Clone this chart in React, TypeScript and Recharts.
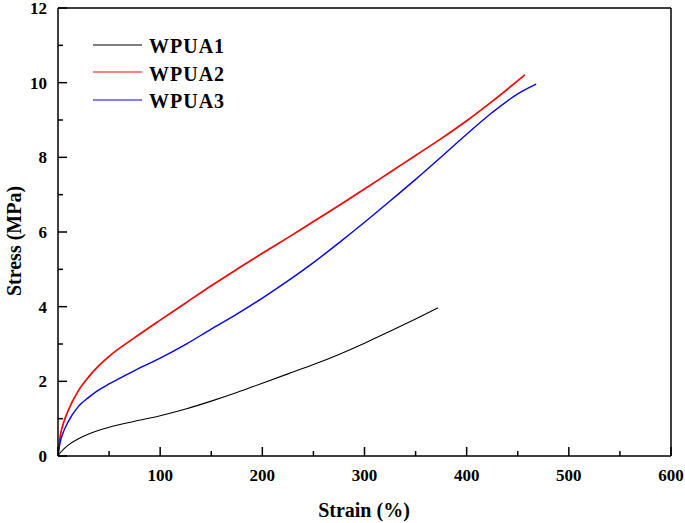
import React from 'react';
import { LineChart, Line, XAxis, YAxis, ReferenceLine, Customized } from 'recharts';

const strain1 = [0, 2, 5, 10, 20, 30, 40, 50, 75, 100, 125, 150, 175, 200, 225, 250, 275, 300, 325, 350, 372];
const stress1 = [0, 0.08, 0.17, 0.29, 0.46, 0.59, 0.69, 0.77, 0.93, 1.08, 1.26, 1.47, 1.7, 1.95, 2.2, 2.45, 2.72, 3.02, 3.34, 3.67, 3.97];

const strain2 = [0, 2, 5, 10, 20, 30, 40, 50, 75, 100, 125, 150, 175, 200, 225, 250, 275, 300, 325, 350, 375, 400, 425, 457];
const stress2 = [0, 0.5, 0.85, 1.22, 1.75, 2.12, 2.42, 2.67, 3.17, 3.64, 4.1, 4.56, 5.0, 5.43, 5.85, 6.28, 6.71, 7.15, 7.6, 8.05, 8.5, 8.98, 9.5, 10.21];

const strain3 = [0, 2, 5, 10, 20, 30, 40, 50, 75, 100, 125, 150, 175, 200, 225, 250, 275, 300, 325, 350, 375, 400, 425, 450, 468];
const stress3 = [0, 0.35, 0.62, 0.92, 1.33, 1.57, 1.77, 1.93, 2.29, 2.62, 2.99, 3.4, 3.8, 4.23, 4.69, 5.18, 5.71, 6.26, 6.83, 7.41, 8.01, 8.62, 9.2, 9.7, 9.96];

const seriesNames = ['WPUA1', 'WPUA2', 'WPUA3'];
const seriesColors = ['#000000', '#ff0000', '#0000ff'];

const xTicks = [0, 50, 100, 150, 200, 250, 300, 350, 400, 450, 500, 550, 600];
const xLabels = [100, 200, 300, 400, 500, 600];
const yTicks = [0, 1, 2, 3, 4, 5, 6, 7, 8, 9, 10, 11, 12];
const yLabels = [0, 2, 4, 6, 8, 10, 12];

const toRows = (xs: number[], ys: number[]) => xs.map((x, i) => ({ x, y: ys[i] }));
const data1 = toRows(strain1, stress1);
const data2 = toRows(strain2, stress2);
const data3 = toRows(strain3, stress3);

const FONT = '"Liberation Serif", "Times New Roman", serif';

const XTick = (props: any) => {
  const { x, y, payload } = props;
  const v = payload.value;
  const major = v % 100 === 0;
  return (
    <g>
      <line x1={x} x2={x} y1={y} y2={y - (major ? 9 : 5)} stroke="#000" strokeWidth={1.5} />
      {major && xLabels.includes(v) ? (
        <text x={x} y={y + 25} textAnchor="middle" fontFamily={FONT} fontWeight="bold" fontSize={17} fill="#000">
          {v}
        </text>
      ) : null}
    </g>
  );
};

const YTick = (props: any) => {
  const { x, y, payload } = props;
  const v = payload.value;
  const major = v % 2 === 0;
  return (
    <g>
      <line x1={x} x2={x + (major ? 9 : 5)} y1={y} y2={y} stroke="#000" strokeWidth={1.5} />
      {major && yLabels.includes(v) ? (
        <text x={x - 11} y={y + 6} textAnchor="end" fontFamily={FONT} fontWeight="bold" fontSize={17} fill="#000">
          {v}
        </text>
      ) : null}
    </g>
  );
};

const LegendBox = () => {
  const rows = [
    { ly: 45, ty: 53 },
    { ly: 72, ty: 81 },
    { ly: 100, ty: 108 },
  ];
  return (
    <g>
      {rows.map((r, i) => (
        <g key={i}>
          <line x1={93} x2={142} y1={r.ly} y2={r.ly} stroke={seriesColors[i]} strokeWidth={1.2} />
          <text x={149} y={r.ty} fontFamily={FONT} fontWeight="bold" fontSize={20} fill="#000" letterSpacing={1}>
            {seriesNames[i]}
          </text>
        </g>
      ))}
      <text x={364} y={517} textAnchor="middle" fontFamily={FONT} fontWeight="bold" fontSize={20} fill="#000">
        Strain (%)
      </text>
      <text
        x={21}
        y={241}
        textAnchor="middle"
        transform="rotate(-90 21 241)"
        fontFamily={FONT}
        fontWeight="bold"
        fontSize={20}
        fill="#000"
      >
        Stress (MPa)
      </text>
    </g>
  );
};

export default function App() {
  return (
    <div style={{ position: 'absolute', left: 0, top: 0, background: '#fff' }}>
      <LineChart width={685} height={523} margin={{ top: 8, right: 14, left: 0, bottom: 0 }}>
        <XAxis
          type="number"
          dataKey="x"
          domain={[0, 600]}
          ticks={xTicks}
          allowDataOverflow
          height={67}
          tickSize={0}
          tickMargin={0}
          tickLine={false}
          tick={<XTick />}
          axisLine={{ stroke: '#000', strokeWidth: 1.5 }}
          interval={0}
        />
        <YAxis
          type="number"
          dataKey="y"
          domain={[0, 12]}
          ticks={yTicks}
          allowDataOverflow
          width={58}
          tickSize={0}
          tickMargin={0}
          tickLine={false}
          tick={<YTick />}
          axisLine={{ stroke: '#000', strokeWidth: 1.5 }}
          interval={0}
        />
        <ReferenceLine x={600} stroke="#000" strokeWidth={1.5} />
        <ReferenceLine y={12} stroke="#000" strokeWidth={1.5} />
        <Line data={data1} dataKey="y" type="monotone" stroke={seriesColors[0]} strokeWidth={1.1} dot={false} isAnimationActive={false} />
        <Line data={data2} dataKey="y" type="monotone" stroke={seriesColors[1]} strokeWidth={1.7} dot={false} isAnimationActive={false} />
        <Line data={data3} dataKey="y" type="monotone" stroke={seriesColors[2]} strokeWidth={1.4} dot={false} isAnimationActive={false} />
        <Customized component={LegendBox} />
      </LineChart>
    </div>
  );
}
